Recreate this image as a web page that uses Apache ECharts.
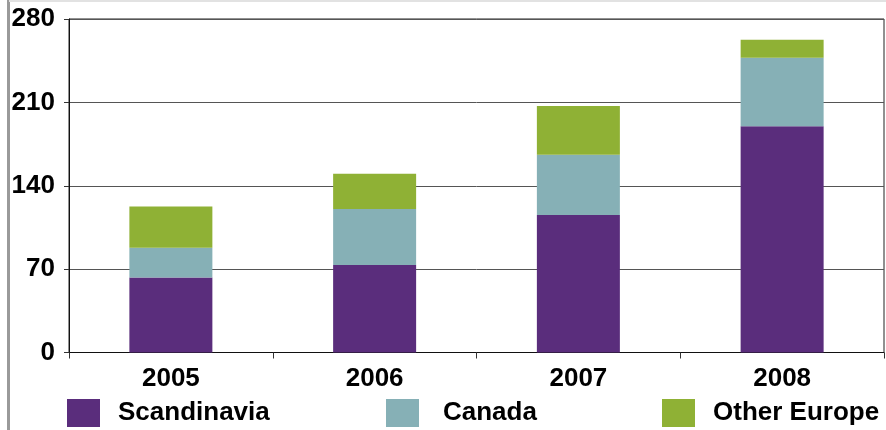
<!DOCTYPE html>
<html>
<head>
<meta charset="utf-8">
<script src="https://cdn.jsdelivr.net/npm/echarts@6/dist/echarts.min.js"></script>
<style>
  html, body { margin: 0; padding: 0; background: #fff; }
  #chart { width: 886px; height: 430px; }
</style>
</head>
<body>
<div id="chart"></div>
<script>
// Yearly totals split by region (stacked)
const years = ['2005', '2006', '2007', '2008'];
const scandinavia = [63, 73.5, 115.5, 190];
const canada = [25, 47, 50.5, 57.5];
const otherEurope = [34.5, 29.5, 41, 15];
const yTicks = [0, 70, 140, 210, 280];

const seriesNames = ['Scandinavia', 'Canada', 'Other Europe'];
const seriesColors = ['#5a2d7c', '#86b0b6', '#8fb135'];
const seriesData = [scandinavia, canada, otherEurope];

const font = 'Liberation Sans, Arial, sans-serif';
const bold = { fontFamily: font, fontWeight: 'bold', fontSize: 26, color: '#000' };

const chart = echarts.init(document.getElementById('chart'), null, { renderer: 'canvas' });

// each legend entry placed on its own
const legendLefts = [67, 386, 662];
const legendTextGaps = [13, 19, 13];

chart.setOption({
  animation: false,
  backgroundColor: '#fff',
  grid: {
    left: 69, right: 2, top: 19, bottom: 77.5,
    show: true, borderColor: '#222', borderWidth: 1, backgroundColor: 'transparent'
  },
  legend: seriesNames.map((name, i) => ({
    data: [name],
    left: legendLefts[i],
    top: 399,
    padding: 0,
    itemWidth: 33,
    itemHeight: 28,
    icon: 'rect',
    selectedMode: false,
    textStyle: Object.assign({}, bold, { padding: [3, 0, 0, legendTextGaps[i]] })
  })),
  xAxis: {
    type: 'category',
    data: years,
    boundaryGap: true,
    axisLine: { lineStyle: { color: '#111', width: 1 } },
    axisTick: { show: true, length: 6, lineStyle: { color: '#333' } },
    axisLabel: Object.assign({}, bold, { margin: 13 })
  },
  yAxis: {
    type: 'value',
    min: yTicks[0],
    max: yTicks[yTicks.length - 1],
    interval: 70,
    axisLine: { show: true, lineStyle: { color: '#111', width: 1 } },
    axisTick: { show: true, length: 5, lineStyle: { color: '#333' } },
    axisLabel: Object.assign({}, bold, { margin: 14 }),
    splitLine: { show: true, lineStyle: { color: '#555', width: 1 } }
  },
  series: seriesNames.map((name, i) => ({
    name: name,
    type: 'bar',
    stack: 'total',
    barWidth: 83,
    itemStyle: { color: seriesColors[i] },
    data: seriesData[i]
  })),
  graphic: [
    // frame edges
    { type: 'rect', shape: { x: 7, y: 0, width: 3, height: 430 }, style: { fill: '#9a9a9a' }, silent: true },
    { type: 'rect', shape: { x: 9, y: 0, width: 877, height: 2 }, style: { fill: '#e2e2e2' }, silent: true }
  ]
});
</script>
</body>
</html>
